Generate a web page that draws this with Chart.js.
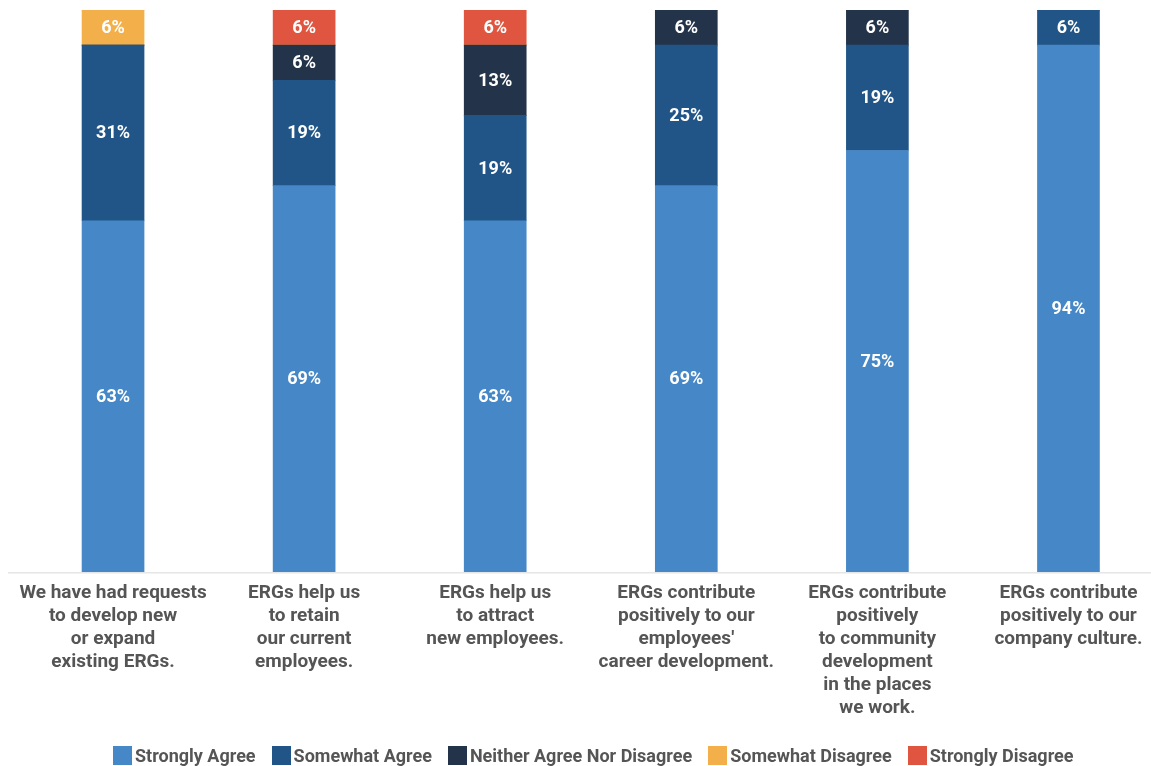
<!DOCTYPE html>
<html>
<head>
<meta charset="utf-8">
<script src="https://cdn.jsdelivr.net/npm/chart.js@4"></script>
<style>
  html, body { margin: 0; padding: 0; background: #fff; overflow: hidden; }
  #wrap { position: relative; width: 1151px; height: 766px; overflow: hidden; }
  #ergChart { position: absolute; left: 0; top: 0; }
  #legend { position: absolute; left: 113px; top: 746px; height: 19px; display: flex; align-items: center;
    font: 700 18px Roboto, sans-serif; color: #555; white-space: nowrap; }
  #legend .item { display: flex; align-items: center; margin-right: 16px; }
  #legend .box { width: 19px; height: 19px; margin-right: 3px; }
</style>
</head>
<body>
<div id="wrap">
  <canvas id="ergChart" width="1164" height="766"></canvas>
  <div id="legend"></div>
</div>
<script>
// categories (x axis)
const categories = [
    ['We have had requests', 'to develop new', 'or expand', 'existing ERGs.'],
    ['ERGs help us', 'to retain', 'our current', 'employees.'],
    ['ERGs help us', 'to attract', 'new employees.'],
    ['ERGs contribute', 'positively to our', "employees'", 'career development.'],
    ['ERGs contribute', 'positively', 'to community', 'development', 'in the places', 'we work.'],
    ['ERGs contribute', 'positively to our', 'company culture.']
];

// series (percent of respondents)
const stronglyAgree     = [62.5, 68.75, 62.5, 68.75, 75, 93.75];
const somewhatAgree     = [31.25, 18.75, 18.75, 25, 18.75, 6.25];
const neitherAgree      = [0, 6.25, 12.5, 6.25, 6.25, 0];
const somewhatDisagree  = [6.25, 0, 0, 0, 0, 0];
const stronglyDisagree  = [0, 6.25, 6.25, 0, 0, 0];

const seriesNames = ['Strongly Agree', 'Somewhat Agree', 'Neither Agree Nor Disagree', 'Somewhat Disagree', 'Strongly Disagree'];
const seriesColors = ['#4587c7', '#215587', '#233349', '#f3b04a', '#e0553f'];
const seriesValues = [stronglyAgree, somewhatAgree, neitherAgree, somewhatDisagree, stronglyDisagree];

const FONT = 'Roboto, sans-serif';

// white percentage labels in the middle of each segment
const segmentLabels = {
    id: 'segmentLabels',
    afterDatasetsDraw(chart) {
        const ctx = chart.ctx;
        ctx.save();
        ctx.fillStyle = '#fff';
        ctx.font = '700 18px ' + FONT;
        ctx.textAlign = 'center';
        ctx.textBaseline = 'middle';
        chart.data.datasets.forEach((ds, i) => {
            chart.getDatasetMeta(i).data.forEach((bar, j) => {
                const v = ds.data[j];
                if (!v) return;
                const mid = (bar.y + bar.base) / 2;
                ctx.fillText(Math.round(v) + '%', bar.x, mid + 1);
            });
        });
        ctx.restore();
    }
};

// thin grey baseline under the bars
const baseLine = {
    id: 'baseLine',
    afterDraw(chart) {
        const ctx = chart.ctx;
        ctx.save();
        ctx.fillStyle = '#e6e6e6';
        ctx.fillRect(8, chart.chartArea.bottom, 1151 - 8, 1.5);
        ctx.restore();
    }
};

const ctxErg = document.getElementById('ergChart');
new Chart(ctxErg, {
    type: 'bar',
    data: {
        labels: categories,
        datasets: seriesNames.map((name, i) => ({
            label: name,
            data: seriesValues[i],
            backgroundColor: seriesColors[i],
            barThickness: 62,
            borderWidth: 0
        }))
    },
    options: {
        responsive: false,
        animation: false,
        layout: { padding: { left: 17.5, right: 0, top: 10, bottom: 0 } },
        plugins: {
            legend: { display: false },
            tooltip: { enabled: false }
        },
        scales: {
            x: {
                stacked: true,
                grid: { display: false, drawTicks: false },
                border: { display: false },
                ticks: {
                    padding: 10,
                    maxRotation: 0,
                    autoSkip: false,
                    color: '#555',
                    font: { family: FONT, size: 19, weight: '700', lineHeight: '23px' }
                },
                afterFit(scale) { scale.height = 766 - 572; }
            },
            y: {
                stacked: true,
                display: false,
                min: 0,
                max: 100
            }
        }
    },
    plugins: [segmentLabels, baseLine]
});

// legend in HTML so box/text spacing matches
const legendEl = document.getElementById('legend');
seriesNames.forEach((name, i) => {
    const item = document.createElement('div');
    item.className = 'item';
    const box = document.createElement('span');
    box.className = 'box';
    box.style.background = seriesColors[i];
    const txt = document.createElement('span');
    txt.textContent = name;
    item.appendChild(box);
    item.appendChild(txt);
    legendEl.appendChild(item);
});
</script>
</body>
</html>
